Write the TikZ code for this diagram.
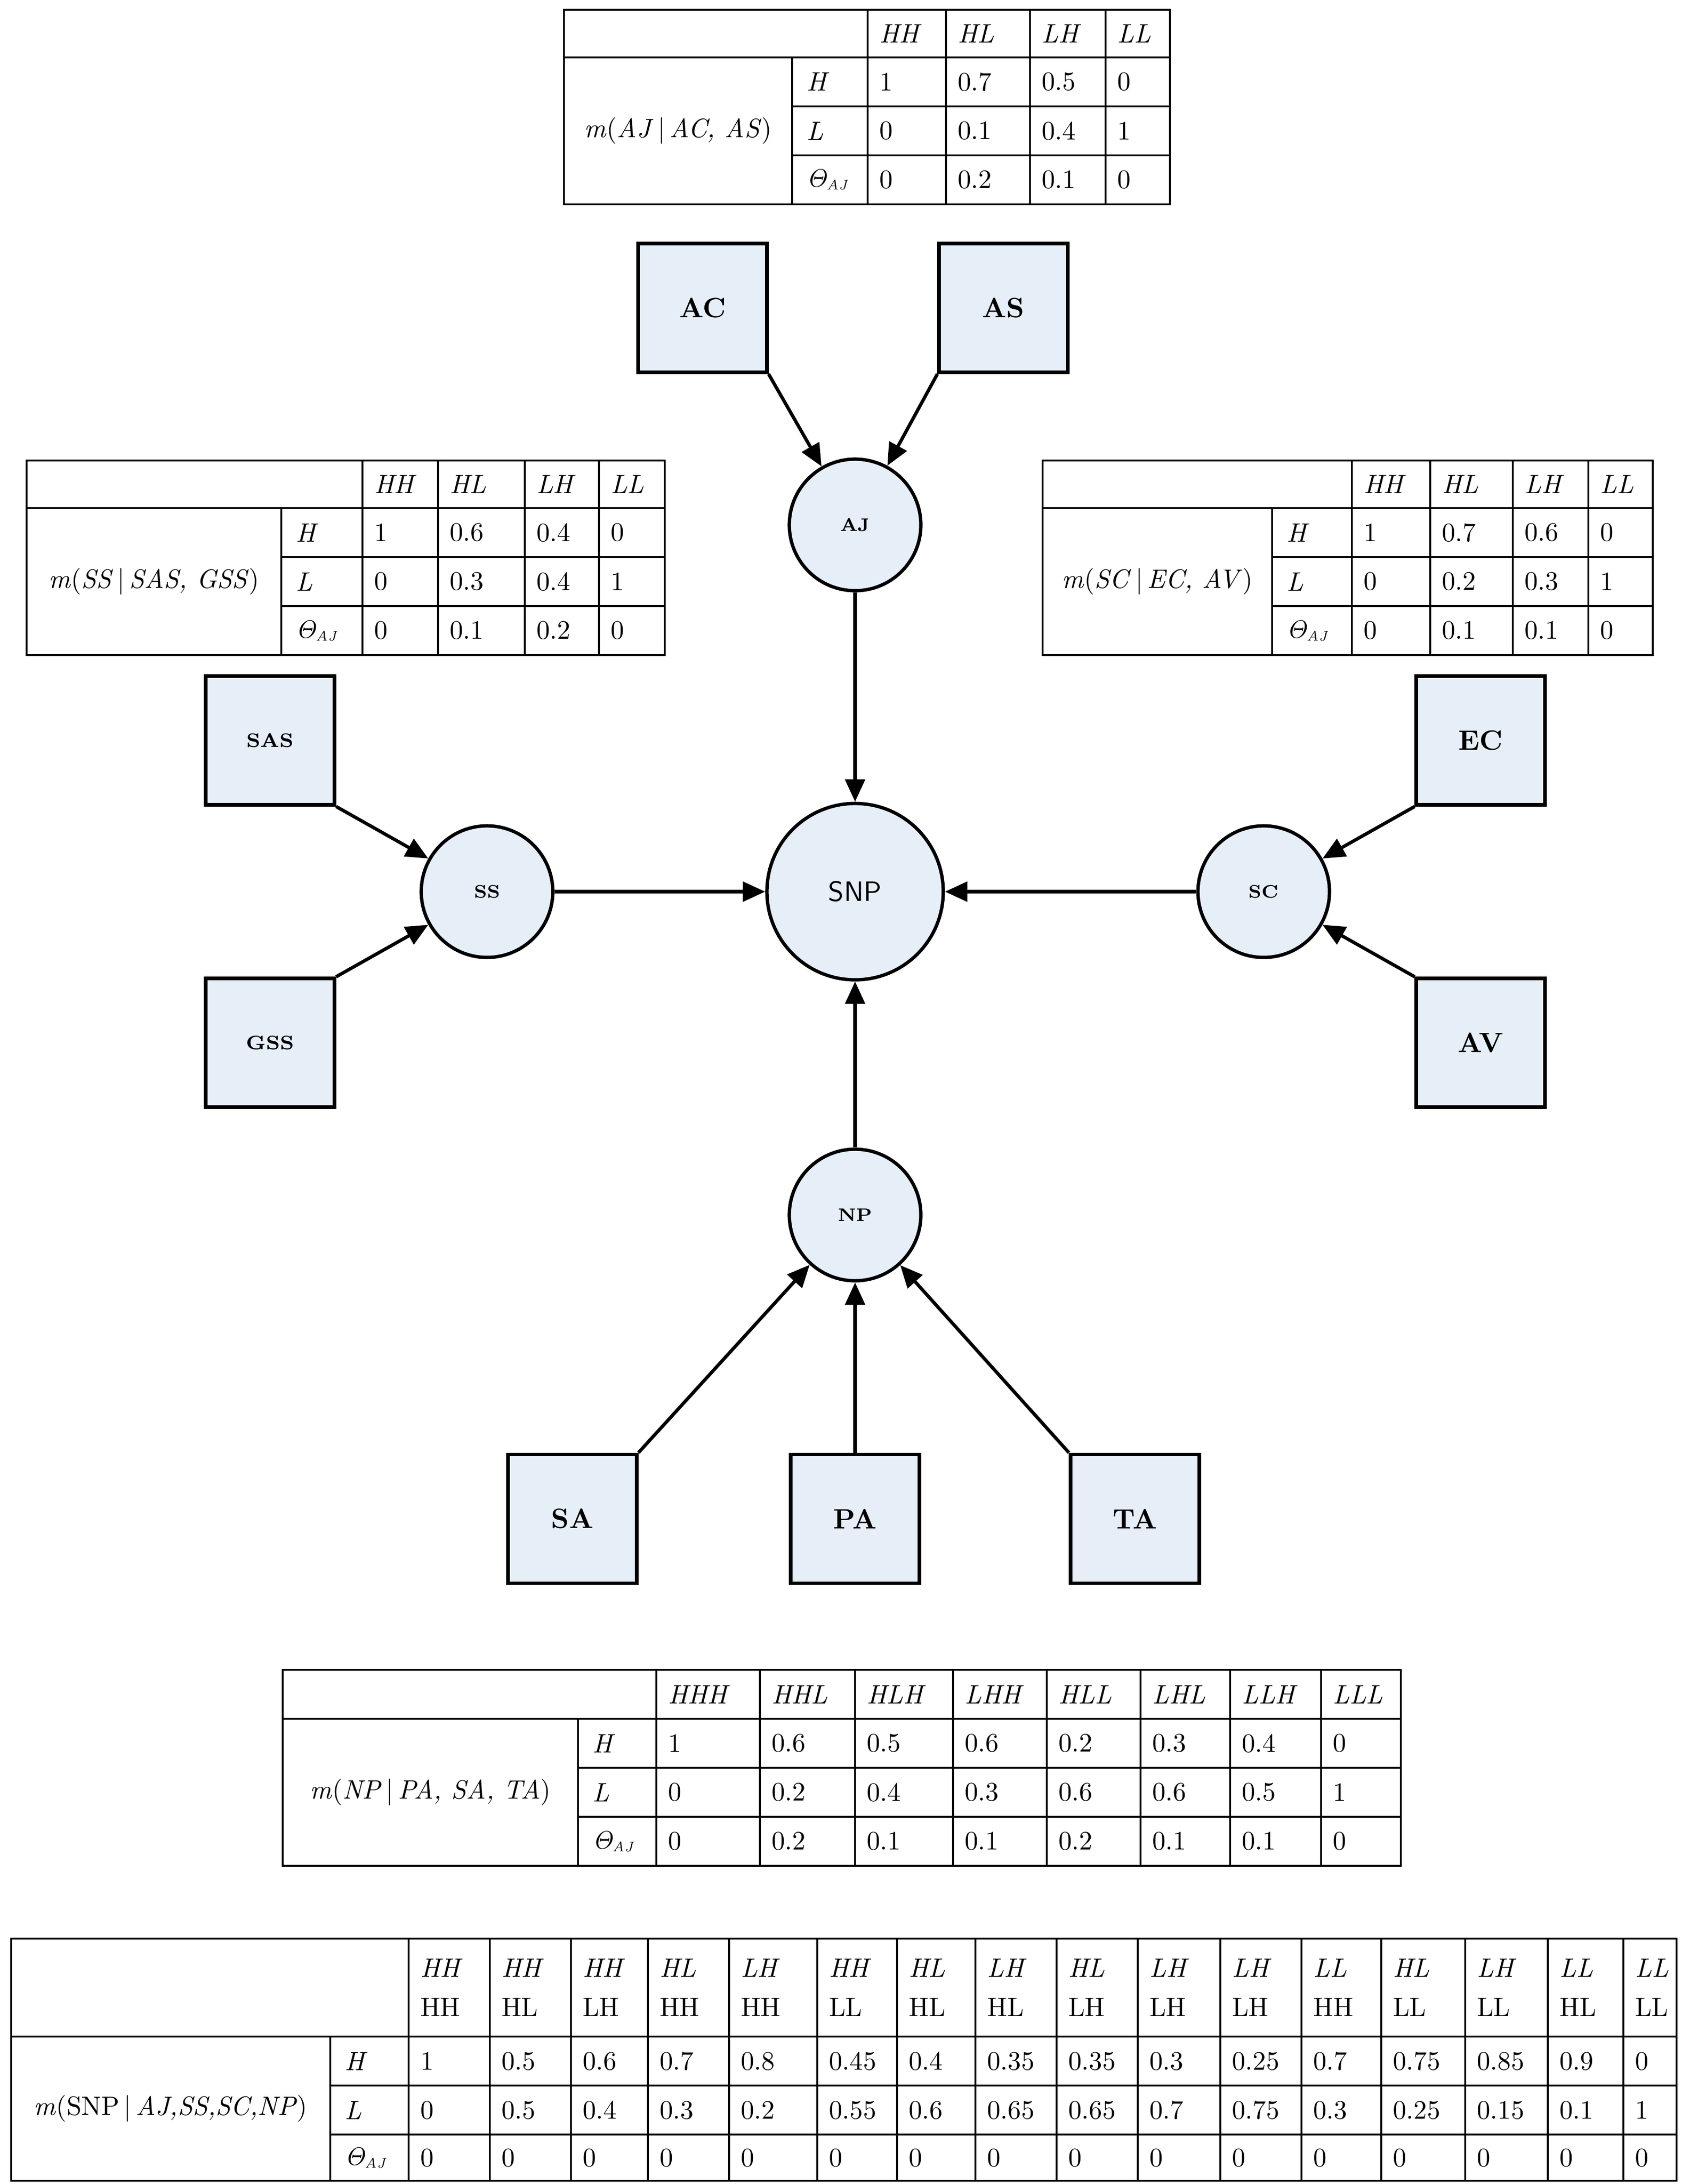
\documentclass[tikz,border=0pt]{standalone}
\usetikzlibrary{arrows.meta}
\definecolor{nodefill}{RGB}{230,238,248}
\tikzset{
  grid/.style={line width=0.6pt},
  cell/.style={anchor=west, inner sep=0pt, align=left, font=\fontsize{9.5}{12}\selectfont},
  box/.style={rectangle, draw=black, fill=nodefill, line width=1.2pt, minimum size=46pt, font=\fontsize{10}{12}\selectfont\bfseries},
  smallbox/.style={box, font=\fontsize{7}{8}\selectfont\bfseries},
  var/.style={circle, draw=black, fill=nodefill, line width=1.2pt, minimum size=47pt, inner sep=0pt, font=\fontsize{6.5}{8}\selectfont\bfseries},
  arr/.style={-{Triangle[length=8pt,width=7pt]}, line width=1.2pt}
}
% table: #1 columns, #2 rows (5), #3 last column index, #4 label,
% #5 header, #6 H row, #7 L row, #8 Theta row
\newcommand\dstable[8]{%
  \pgfmathsetmacro\xA{{#1}[0]}\pgfmathsetmacro\xB{{#1}[1]}%
  \pgfmathsetmacro\xZ{{#1}[#3]}%
  \pgfmathsetmacro\yA{{#2}[0]}\pgfmathsetmacro\yB{{#2}[1]}%
  \pgfmathsetmacro\yC{{#2}[2]}\pgfmathsetmacro\yD{{#2}[3]}%
  \pgfmathsetmacro\yE{{#2}[4]}%
  \pgfmathtruncatemacro\kmax{#3-1}%
  \draw[grid] (\xA,\yA) rectangle (\xZ,\yE);
  \draw[grid] (\xA,\yB) -- (\xZ,\yB);
  \draw[grid] (\xB,\yC) -- (\xZ,\yC) (\xB,\yD) -- (\xZ,\yD);
  \draw[grid] (\xB,\yB) -- (\xB,\yE);
  \foreach \k in {2,...,\kmax}{%
    \pgfmathsetmacro\xk{{#1}[\k]}%
    \draw[grid] (\xk,\yA) -- (\xk,\yE);}
  \node[cell, anchor=center] at ({(\xA+\xB)/2},{(\yB+\yE)/2}) {#4};
  \node[cell] at (\xB+10,{(\yB+\yC)/2}) {\textit{H}};
  \node[cell] at (\xB+10,{(\yC+\yD)/2}) {\textit{L}};
  \node[cell] at (\xB+10,{(\yD+\yE)/2}) {$\mathit{\Theta}_{\scriptscriptstyle\mathit{AJ}}$};
  \foreach \t [count=\i from 2] in {#5}{%
    \pgfmathsetmacro\xk{{#1}[\i]}%
    \node[cell] at (\xk+8,{(\yA+\yB)/2}) {\itshape\t};}
  \foreach \t [count=\i from 2] in {#6}{%
    \pgfmathsetmacro\xk{{#1}[\i]}%
    \node[cell] at (\xk+8,{(\yB+\yC)/2}) {\t};}
  \foreach \t [count=\i from 2] in {#7}{%
    \pgfmathsetmacro\xk{{#1}[\i]}%
    \node[cell] at (\xk+8,{(\yC+\yD)/2}) {\t};}
  \foreach \t [count=\i from 2] in {#8}{%
    \pgfmathsetmacro\xk{{#1}[\i]}%
    \node[cell] at (\xk+8,{(\yD+\yE)/2}) {\t};}
}
\begin{document}
\begin{tikzpicture}[x=0.5pt,y=-0.5pt]
  \useasboundingbox (0,0) rectangle (1213,1560.3);

  % Tables
  \dstable{403,566,620,676,736,790,836}{7,41,76,111,146}{6}
    {\textit{m}(\textit{AJ}\,|\,\textit{AC, AS})}
    {HH,HL,LH,LL}{1,0.7,0.5,0}{0,0.1,0.4,1}{0,0.2,0.1,0}
  \dstable{19,201,259,313,375,428,475}{329,363,398,433,468}{6}
    {\textit{m}(\textit{SS}\,|\,\textit{SAS, GSS})}
    {HH,HL,LH,LL}{1,0.6,0.4,0}{0,0.3,0.4,1}{0,0.1,0.2,0}
  \dstable{745,909,966,1022,1081,1135,1181}{329,363,398,433,468}{6}
    {\textit{m}(\textit{SC}\,|\,\textit{EC, AV})}
    {HH,HL,LH,LL}{1,0.7,0.6,0}{0,0.2,0.3,1}{0,0.1,0.1,0}
  \dstable{202,413,469,543,611,681,748,815,879,944,1001}{1193,1228,1263,1298,1333}{10}
    {\textit{m}(\textit{NP}\,|\,\textit{PA, SA, TA})}
    {HHH,HHL,HLH,LHH,HLL,LHL,LLH,LLL}{1,0.6,0.5,0.6,0.2,0.3,0.4,0}
    {0,0.2,0.4,0.3,0.6,0.6,0.5,1}{0,0.2,0.1,0.1,0.2,0.1,0.1,0}
  \dstable{8,236,292,350,408,463,521,584,641,697,755,813,872,930,987,1047,1106,1160,1198}{1385,1455,1490,1525,1558}{18}
    {\textit{m}(SNP\,|\,\textit{AJ,SS,SC,NP})}
    {HH\\[2pt]HH,HH\\[2pt]HL,HH\\[2pt]LH,HL\\[2pt]HH,LH\\[2pt]HH,HH\\[2pt]LL,HL\\[2pt]HL,LH\\[2pt]HL,HL\\[2pt]LH,LH\\[2pt]LH,LH\\[2pt]LH,LL\\[2pt]HH,HL\\[2pt]LL,LH\\[2pt]LL,LL\\[2pt]HL,LL\\[2pt]LL}
    {1,0.5,0.6,0.7,0.8,0.45,0.4,0.35,0.35,0.3,0.25,0.7,0.75,0.85,0.9,0}
    {0,0.5,0.4,0.3,0.2,0.55,0.6,0.65,0.65,0.7,0.75,0.3,0.25,0.15,0.1,1}
    {0,0,0,0,0,0,0,0,0,0,0,0,0,0,0,0}

  % Evidence nodes
  \node[box] (AC) at (502,220) {AC};
  \node[box] (AS) at (717,220) {AS};
  \node[smallbox] (SAS) at (193,529) {SAS};
  \node[smallbox] (GSS) at (193,745) {GSS};
  \node[box] (EC) at (1058,529) {EC};
  \node[box] (AV) at (1058,745) {AV};
  \node[box] (SA) at (409,1085) {SA};
  \node[box] (PA) at (611,1085) {PA};
  \node[box] (TA) at (811,1085) {TA};

  % Variable nodes
  \node[var] (AJ) at (611,375) {AJ};
  \node[var] (SS) at (348,637) {SS};
  \node[var] (SC) at (903,637) {SC};
  \node[var] (NP) at (611,868) {NP};
  \node[var, minimum size=63pt, font=\fontsize{10}{12}\selectfont\sffamily] (SNP) at (611,637) {SNP};

  % Arrows
  \draw[arr] (AC.south east) -- (AJ);
  \draw[arr] (AS.south west) -- (AJ);
  \draw[arr] (SAS.south east) -- (SS);
  \draw[arr] (GSS.north east) -- (SS);
  \draw[arr] (EC.south west) -- (SC);
  \draw[arr] (AV.north west) -- (SC);
  \draw[arr] (SA.north east) -- (NP);
  \draw[arr] (PA) -- (NP);
  \draw[arr] (TA.north west) -- (NP);
  \draw[arr] (AJ) -- (SNP);
  \draw[arr] (SS) -- (SNP);
  \draw[arr] (SC) -- (SNP);
  \draw[arr] (NP) -- (SNP);
\end{tikzpicture}
\end{document}
